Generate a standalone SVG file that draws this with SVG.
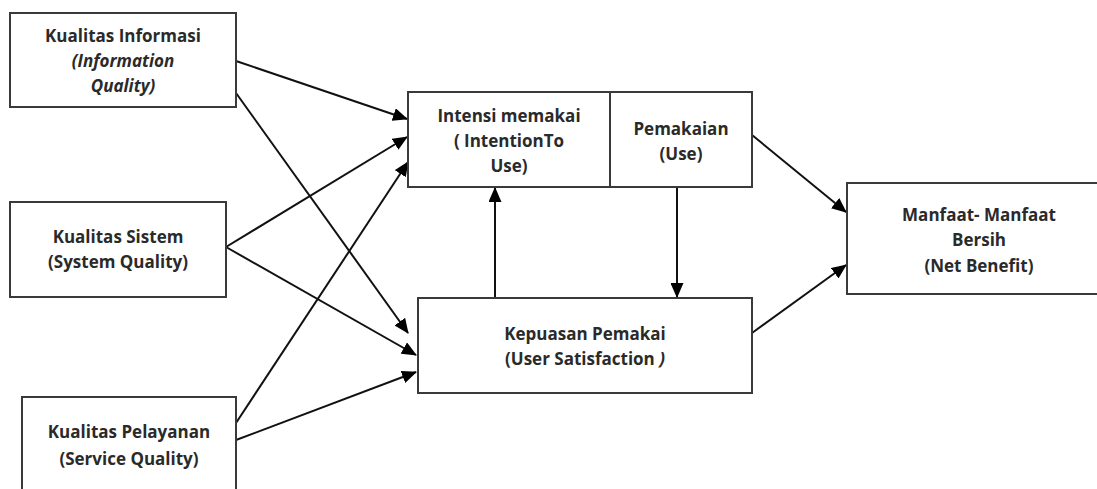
<svg xmlns="http://www.w3.org/2000/svg" width="1097" height="489" viewBox="0 0 1097 489">
<style>
.box{fill:#fff;stroke:#3a3a3a;stroke-width:2}
.t{font-family:"Open Sans","Liberation Sans",sans-serif;font-weight:700;font-size:17px;fill:#2a2a2a;text-anchor:middle}
.i{font-style:italic}
.c{stroke:#111;stroke-width:2;fill:none;marker-end:url(#ah)}
</style>
<defs>
<marker id="ah" markerUnits="userSpaceOnUse" markerWidth="15" markerHeight="13" refX="14" refY="6.5" orient="auto">
<path d="M0,0 L15,6.5 L0,13 z" fill="#000"/>
</marker>
</defs>
<rect width="1097" height="489" fill="#fff"/>
<g id="connectors">
<line class="c" x1="236" y1="61" x2="407" y2="119"/>
<line class="c" x1="236" y1="93" x2="408" y2="333"/>
<line class="c" x1="226" y1="247" x2="407" y2="137"/>
<line class="c" x1="226" y1="247" x2="416" y2="355"/>
<line class="c" x1="236" y1="423" x2="408" y2="162"/>
<line class="c" x1="236" y1="440" x2="416" y2="372"/>
<line class="c" x1="495" y1="298" x2="495" y2="188"/>
<line class="c" x1="677" y1="187" x2="677" y2="297"/>
<line class="c" x1="752" y1="135" x2="846" y2="212"/>
<line class="c" x1="752" y1="333" x2="846" y2="265"/>
</g>
<g id="info">
<rect class="box" x="10" y="13" width="226" height="94"/>
<text class="t" x="123" y="42">Kualitas Informasi</text>
<text class="t i" x="123" y="67">(Information</text>
<text class="t i" x="123" y="92">Quality)</text>
</g>
<g id="sistem">
<rect class="box" x="10" y="202" width="216" height="95"/>
<text class="t" x="118" y="243">Kualitas Sistem</text>
<text class="t" x="118" y="268">(System Quality)</text>
</g>
<g id="pelayanan">
<rect class="box" x="22" y="397" width="214" height="120"/>
<text class="t" x="129" y="438">Kualitas Pelayanan</text>
<text class="t" x="129" y="465">(Service Quality)</text>
</g>
<g id="intensi">
<rect class="box" x="408" y="92" width="202" height="95"/>
<text class="t" x="509" y="122">Intensi memakai</text>
<text class="t" x="509" y="147">( IntentionTo</text>
<text class="t" x="509" y="172">Use)</text>
</g>
<g id="pemakaian">
<rect class="box" x="610" y="92" width="142" height="95"/>
<text class="t" x="681" y="135">Pemakaian</text>
<text class="t" x="681" y="160">(Use)</text>
</g>
<g id="kepuasan">
<rect class="box" x="418" y="298" width="334" height="95"/>
<text class="t" x="585" y="340">Kepuasan Pemakai</text>
<text class="t" x="585" y="365">(User Satisfaction <tspan class="i">)</tspan></text>
</g>
<g id="netbenefit">
<rect class="box" x="847" y="183" width="264" height="111"/>
<text class="t" x="979" y="221">Manfaat- Manfaat</text>
<text class="t" x="979" y="246">Bersih</text>
<text class="t" x="979" y="272">(Net Benefit)</text>
</g>
</svg>
